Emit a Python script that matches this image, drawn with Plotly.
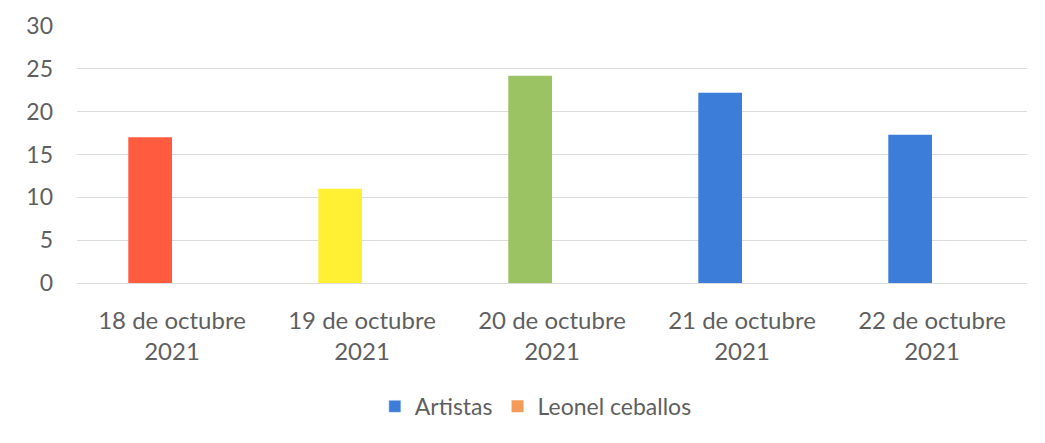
import plotly.graph_objects as go

categories = ["18 de octubre<br>2021", "19 de octubre<br>2021", "20 de octubre<br>2021",
              "21 de octubre<br>2021", "22 de octubre<br>2021"]
artistas = [17, 11, 24.2, 22.2, 17.3]
leonel = [0, 0, 0, 0, 0]
bar_colors = ["#FF5B3F", "#FFF033", "#9BC263", "#3C7DD9", "#3C7DD9"]
y_ticks = [0, 5, 10, 15, 20, 25, 30]

FONT = "Lato"
GRAY = "#5F5F5F"
FS = 23

fig = go.Figure()
fig.add_trace(go.Bar(x=categories, y=artistas, name="Artistas", offsetgroup="a",
                     marker=dict(color=bar_colors, line=dict(width=0)),
                     showlegend=False, legendgroup="a"))
fig.add_trace(go.Bar(x=[categories[0]], y=[None], name="Artistas", offsetgroup="a",
                     marker=dict(color="#3C7DD9"), legendgroup="a"))
fig.add_trace(go.Bar(x=categories, y=leonel, name="Leonel ceballos", offsetgroup="b",
                     marker=dict(color="#F39C5A", line=dict(width=0))))

fig.update_layout(
    width=1045, height=443,
    margin=dict(l=69, r=26, t=18, b=168, autoexpand=False),
    paper_bgcolor="white", plot_bgcolor="white",
    barmode="group", bargap=0.54, bargroupgap=0,
    font=dict(family=FONT, color=GRAY, size=FS),
    legend=dict(orientation="h", x=0.483, xanchor="center", y=-0.48, yanchor="middle",
                font=dict(size=FS, color=GRAY), itemwidth=30, traceorder="normal"),
    showlegend=True,
)
fig.update_xaxes(showgrid=False, showline=False, ticks="", ticklabelstandoff=21,
                 tickfont=dict(size=24, color=GRAY))
fig.update_yaxes(range=[0, 30], tickvals=y_ticks, showgrid=True, gridcolor="#DCDCDC",
                 gridwidth=1, zeroline=True, zerolinecolor="#DCDCDC", zerolinewidth=1,
                 showline=False, ticks="", ticklabelstandoff=23,
                 tickfont=dict(size=FS, color=GRAY))

fig.write_html("out.html")
